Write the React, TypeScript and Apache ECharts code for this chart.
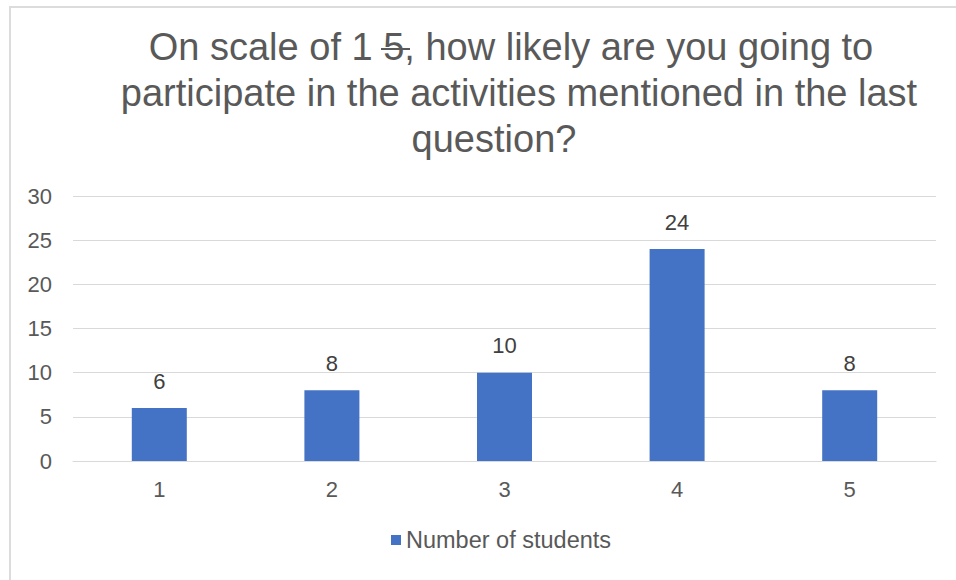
import React, { useEffect, useRef } from "react";
import * as echarts from "echarts";

const categories = ["1", "2", "3", "4", "5"];
const students = [6, 8, 10, 24, 8];
const yTicks = { min: 0, max: 30, interval: 5 };
const seriesName = "Number of students";
const titleLines = [
  "On scale of 1 5, how likely are you going to",
  "participate in the activities mentioned in the last",
  "question?",
];

export default function App() {
  const ref = useRef<HTMLDivElement>(null);
  useEffect(() => {
    if (!ref.current) return;
    const chart = echarts.init(ref.current, null, { renderer: "svg" });
    const font = "Liberation Sans, Arial, Helvetica, sans-serif";
    const titleFont = `38px ${font}`;
    chart.setOption({
      animation: false,
      backgroundColor: "#ffffff",
      textStyle: { fontFamily: font },
      graphic: [
        {
          type: "rect",
          shape: { x: 10, y: 7, width: 1000, height: 700 },
          style: { fill: "none", stroke: "#dcdcdc", lineWidth: 2 },
          silent: true,
        },
        {
          type: "text",
          x: 511,
          y: 47,
          style: {
            text: titleLines[0],
            fill: "#595959",
            font: titleFont,
            textAlign: "center",
            textVerticalAlign: "middle",
          },
        },
        {
          type: "text",
          x: 519,
          y: 93,
          style: {
            text: titleLines[1],
            fill: "#595959",
            font: titleFont,
            textAlign: "center",
            textVerticalAlign: "middle",
          },
        },
        {
          type: "text",
          x: 494,
          y: 139,
          style: {
            text: titleLines[2],
            fill: "#595959",
            font: titleFont,
            textAlign: "center",
            textVerticalAlign: "middle",
          },
        },
        {
          type: "line",
          shape: { x1: 381, y1: 49, x2: 410, y2: 49 },
          style: { stroke: "#595959", lineWidth: 2 },
        },
      ],
      grid: { left: 73, right: 20, top: 196, bottom: 119, containLabel: false },
      legend: {
        top: 523,
        left: 386,
        itemWidth: 10,
        itemHeight: 10,
        icon: "rect",
        itemGap: 10,
        textStyle: { color: "#595959", fontSize: 23.5, fontFamily: font },
        data: [seriesName],
      },
      xAxis: {
        type: "category",
        data: categories,
        axisLine: { show: true, lineStyle: { color: "#d9d9d9" } },
        axisTick: { show: false },
        axisLabel: { color: "#595959", fontSize: 22, margin: 17, fontFamily: font },
      },
      yAxis: {
        type: "value",
        min: yTicks.min,
        max: yTicks.max,
        interval: yTicks.interval,
        axisLine: { show: false },
        axisTick: { show: false },
        axisLabel: { color: "#595959", fontSize: 22, margin: 21, fontFamily: font },
        splitLine: { lineStyle: { color: "#d9d9d9", width: 1 } },
      },
      series: [
        {
          name: seriesName,
          type: "bar",
          data: students,
          barWidth: 55,
          itemStyle: { color: "#4472c4" },
          label: {
            show: true,
            position: "top",
            distance: 16,
            color: "#404040",
            fontSize: 22,
            fontFamily: font,
          },
        },
      ],
    });
    return () => chart.dispose();
  }, []);
  return (
    <div
      ref={ref}
      style={{ position: "fixed", left: 0, top: 0, width: 956, height: 580 }}
    />
  );
}
